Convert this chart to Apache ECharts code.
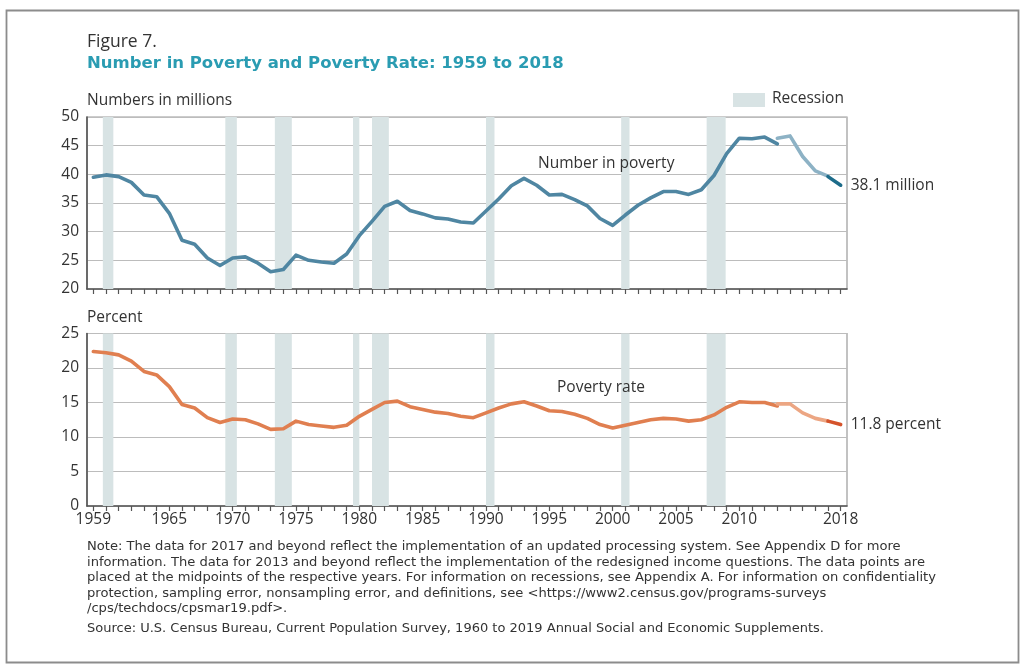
<!DOCTYPE html>
<html>
<head>
<meta charset="utf-8">
<script src="https://cdn.jsdelivr.net/npm/echarts@6/dist/echarts.min.js"></script>
<style>html,body{margin:0;padding:0;background:#fff}#c{width:1024px;height:670px}</style>
</head>
<body>
<div id="c"></div>
<script>
// ---- data (millions / percent), year values plotted at mid-year ----
const yearsOld = [1959,1960,1961,1962,1963,1964,1965,1966,1967,1968,1969,1970,1971,1972,1973,1974,1975,1976,1977,1978,1979,1980,1981,1982,1983,1984,1985,1986,1987,1988,1989,1990,1991,1992,1993,1994,1995,1996,1997,1998,1999,2000,2001,2002,2003,2004,2005,2006,2007,2008,2009,2010,2011,2012,2013];
const numberOld = [39.5,39.9,39.6,38.6,36.4,36.1,33.2,28.5,27.8,25.4,24.1,25.4,25.6,24.5,23.0,23.4,25.9,25.0,24.7,24.5,26.1,29.3,31.8,34.4,35.3,33.7,33.1,32.4,32.2,31.7,31.5,33.6,35.7,38.0,39.3,38.1,36.4,36.5,35.6,34.5,32.3,31.1,32.9,34.6,35.9,37.0,37.0,36.5,37.3,39.8,43.6,46.3,46.2,46.5,45.3];
const rateOld = [22.4,22.2,21.9,21.0,19.5,19.0,17.3,14.7,14.2,12.8,12.1,12.6,12.5,11.9,11.1,11.2,12.3,11.8,11.6,11.4,11.7,13.0,14.0,15.0,15.2,14.4,14.0,13.6,13.4,13.0,12.8,13.5,14.2,14.8,15.1,14.5,13.8,13.7,13.3,12.7,11.8,11.3,11.7,12.1,12.5,12.7,12.6,12.3,12.5,13.2,14.3,15.1,15.0,15.0,14.5];
const yearsRedesign = [2013,2014,2015,2016,2017];
const numberRedesign = [46.3,46.7,43.1,40.6,39.7];
const rateRedesign = [14.8,14.8,13.5,12.7,12.3];
const yearsUpdated = [2017,2018];
const numberUpdated = [39.6,38.1];
const rateUpdated = [12.3,11.8];
const recessions = [[1960.25,1961.08],[1969.92,1970.83],[1973.83,1975.17],[1980.0,1980.5],[1981.5,1982.83],[1990.5,1991.17],[2001.17,2001.83],[2007.92,2009.42]];
const labelYears = [1959,1965,1970,1975,1980,1985,1990,1995,2000,2005,2010,2018];
const numberTicks = [20,25,30,35,40,45,50];
const rateTicks = [0,5,10,15,20,25];

const FONT = '"Open Sans", "Noto Sans", sans-serif';
const WIDE = '"DejaVu Sans", "Open Sans", sans-serif';
const pairs = (ys, vs) => ys.map((y, i) => [y + 0.5, vs[i]]);
const tickYears = [];
for (let y = 1959; y <= 2018; y++) tickYears.push(y + 0.5);

const chart = echarts.init(document.getElementById('c'), null, {renderer: 'canvas'});

function xAxisFor(gridIndex, showLabels) {
  return {
    type: 'value', gridIndex, min: 1959, max: 2019,
    axisLine: {show: true, lineStyle: {color: '#555', width: 1.6}},
    axisTick: {show: true, inside: false, length: 5, customValues: tickYears, lineStyle: {color: '#555', width: 1.2}},
    axisLabel: {show: showLabels, customValues: labelYears.map(y => y + 0.5), formatter: v => String(Math.floor(v)),
      color: '#333', fontSize: 15.5, fontFamily: FONT, margin: 6},
    splitLine: {show: false}
  };
}
function yAxisFor(gridIndex, min, max) {
  return {
    type: 'value', gridIndex, min, max, interval: 5,
    axisLine: {show: true, lineStyle: {color: '#555', width: 1.6}},
    axisTick: {show: false},
    axisLabel: {color: '#333', fontSize: 15.5, fontFamily: FONT, margin: 8},
    splitLine: {show: true, lineStyle: {color: '#bcbcbc', width: 1.2}}
  };
}
function recessionSeries(i) {
  return {
    type: 'line', xAxisIndex: i, yAxisIndex: i, data: [], silent: true, z: 1,
    markArea: {silent: true, itemStyle: {color: '#d8e3e4', opacity: 1},
      data: recessions.map(r => [{xAxis: r[0]}, {xAxis: r[1]}])}
  };
}
function lineSeries(i, data, color, extra) {
  return Object.assign({
    type: 'line', xAxisIndex: i, yAxisIndex: i, data, showSymbol: false, symbol: 'none', z: 3,
    lineStyle: {color, width: 3.6, cap: 'round', join: 'round'}, silent: true
  }, extra || {});
}

chart.setOption({
  animation: false,
  textStyle: {fontFamily: FONT},
  grid: [
    {left: 87, top: 117, width: 760, height: 172, show: true, borderColor: '#9a9a9a', borderWidth: 1.2, backgroundColor: 'transparent'},
    {left: 87, top: 333.5, width: 760, height: 172.5, show: true, borderColor: '#9a9a9a', borderWidth: 1.2, backgroundColor: 'transparent'}
  ],
  xAxis: [xAxisFor(0, false), xAxisFor(1, true)],
  yAxis: [yAxisFor(0, numberTicks[0], numberTicks[numberTicks.length - 1]), yAxisFor(1, rateTicks[0], rateTicks[rateTicks.length - 1])],
  series: [
    recessionSeries(0),
    recessionSeries(1),
    lineSeries(0, pairs(yearsOld, numberOld), '#4f86a2'),
    lineSeries(0, pairs(yearsRedesign, numberRedesign), '#8db2c5'),
    lineSeries(0, pairs(yearsUpdated, numberUpdated), '#1d6c8a', {
      endLabel: {show: true, formatter: '38.1 million', color: '#333', fontSize: 15.5, fontFamily: FONT, distance: 10}
    }),
    lineSeries(1, pairs(yearsOld, rateOld), '#e07f50'),
    lineSeries(1, pairs(yearsRedesign, rateRedesign), '#eca683'),
    lineSeries(1, pairs(yearsUpdated, rateUpdated), '#d5532b', {
      endLabel: {show: true, formatter: '11.8 percent', color: '#333', fontSize: 15.5, fontFamily: FONT, distance: 10}
    })
  ],
  graphic: [
    {type: 'rect', z: 100, shape: {x: 6.5, y: 10.5, width: 1012, height: 652}, style: {fill: 'none', stroke: '#8c8c8c', lineWidth: 1.8}, silent: true},
    {type: 'text', z: 100, left: 87, top: 33, style: {text: 'Figure 7.', fill: '#333', font: '17.5px ' + FONT}},
    {type: 'text', z: 100, left: 87, top: 55, style: {text: 'Number in Poverty and Poverty Rate: 1959 to 2018', fill: '#2a9cb2', font: 'bold 16.5px ' + WIDE}},
    {type: 'text', z: 100, left: 87, top: 93, style: {text: 'Numbers in millions', fill: '#333', font: '15.5px ' + FONT}},
    {type: 'rect', z: 100, shape: {x: 733, y: 93, width: 32, height: 14}, style: {fill: '#d8e3e4'}, silent: true},
    {type: 'text', z: 100, left: 772, top: 91, style: {text: 'Recession', fill: '#333', font: '15.5px ' + FONT}},
    {type: 'text', z: 100, left: 87, top: 310, style: {text: 'Percent', fill: '#333', font: '15.5px ' + FONT}},
    {type: 'text', z: 100, left: 538, top: 156, style: {text: 'Number in poverty', fill: '#333', font: '15.5px ' + FONT}},
    {type: 'text', z: 100, left: 557, top: 380, style: {text: 'Poverty rate', fill: '#333', font: '15.5px ' + FONT}},
    {type: 'text', z: 100, left: 87, top: 539, style: {
      text: 'Note: The data for 2017 and beyond reflect the implementation of an updated processing system. See Appendix D for more\n' +
            'information. The data for 2013 and beyond reflect the implementation of the redesigned income questions. The data points are\n' +
            'placed at the midpoints of the respective years. For information on recessions, see Appendix A. For information on confidentiality\n' +
            'protection, sampling error, nonsampling error, and definitions, see <https://www2.census.gov/programs-surveys\n' +
            '/cps/techdocs/cpsmar19.pdf>.',
      fill: '#333', font: '13.1px ' + WIDE, lineHeight: 15.5}},
    {type: 'text', z: 100, left: 87, top: 622, style: {
      text: 'Source: U.S. Census Bureau, Current Population Survey, 1960 to 2019 Annual Social and Economic Supplements.',
      fill: '#333', font: '13px ' + WIDE}}
  ]
});
</script>
</body>
</html>
